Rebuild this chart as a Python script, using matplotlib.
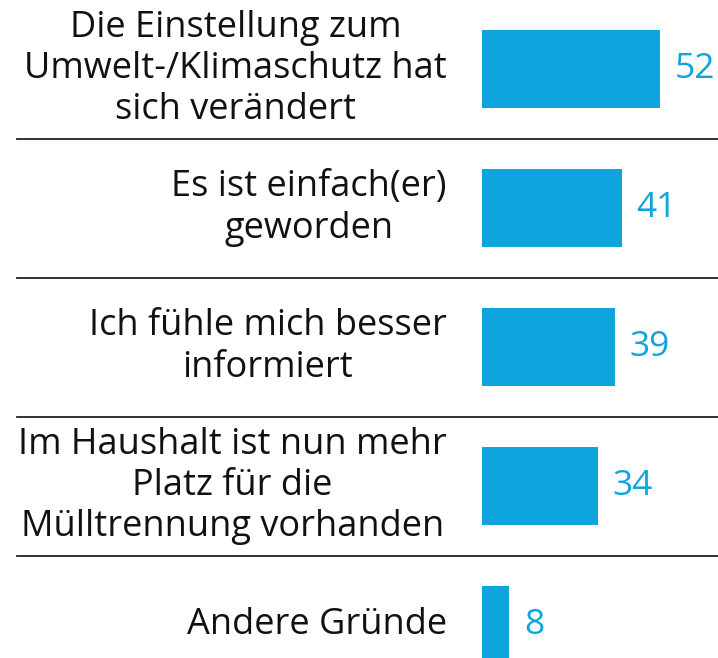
import matplotlib
matplotlib.use("Agg")
import matplotlib.pyplot as plt

# Datos del gráfico
categorias = [
    "Die Einstellung zum\nUmwelt-/Klimaschutz hat\nsich verändert",
    "Es ist einfach(er)\ngeworden",
    "Ich fühle mich besser\ninformiert",
    "Im Haushalt ist nun mehr\nPlatz für die\nMülltrennung vorhanden",
    "Andere Gründe",
]
valores = [52, 41, 39, 34, 8]

azul = "#0EA5DE"

fig = plt.figure(figsize=(7.18, 6.58), dpi=100)
ax = fig.add_axes([0, 0, 1, 1])

# Escala: 0 en x=482 px, 3.423 px por unidad
px = 3.423
ax.set_xlim(-482 / px, (718 - 482) / px)
ax.set_ylim((658 - 69) / 139, -69 / 139)

pos = list(range(len(valores)))
ax.barh(pos, valores, height=0.555, color=azul)

for i, (cat, v) in enumerate(zip(categorias, valores)):
    ax.text(-10.3, i, cat, ha="right", va="center", multialignment="center",
            fontsize=26, family="Open Sans", linespacing=1.2, color="#111111")
    ax.text(v + 4.2, i, str(v), ha="left", va="center",
            fontsize=25.5, family="Open Sans", color=azul)

# Líneas separadoras
for i in range(len(valores) - 1):
    ax.plot([(17 - 482) / px, 718 / px], [i + 0.5, i + 0.5], color="#222222", lw=1.3)

ax.axis("off")
fig.savefig("out.png", dpi=100)
